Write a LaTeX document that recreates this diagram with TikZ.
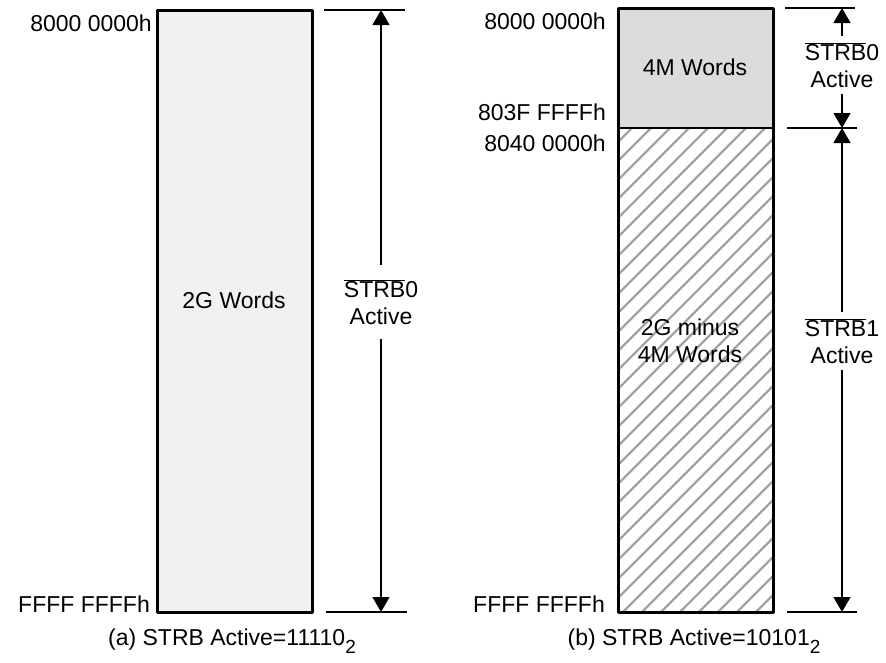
\documentclass[tikz,border=0pt]{standalone}
\usepackage{fontspec}
\setmainfont{Liberation Sans}
\usetikzlibrary{arrows.meta,positioning}
\definecolor{paleblock}{HTML}{F0F1F3}
\definecolor{greyblock}{HTML}{DCDCDC}
\tikzset{
  memblock/.style={draw=black, line width=3pt},
  addr/.style={anchor=base east, inner sep=0pt},
  actlbl/.style={align=center, inner xsep=0pt, inner ysep=6pt},
  dimline/.style={line width=1.2pt, -{Triangle[width=17pt,length=15pt]}},
  tickline/.style={line width=1.2pt},
  hatchline/.style={draw=black!36, line width=2.4pt},
  caption/.style={anchor=base, inner sep=0pt},
}
\newcommand{\strbact}[1]{$\overline{\mbox{STRB}}$#1\\Active}
\newcommand{\binsub}[1]{\raisebox{-8pt}{\fontsize{19}{19}\selectfont #1}}

\begin{document}
\begin{tikzpicture}[x=1pt, y=-1pt, font=\fontsize{23}{27}\selectfont, line join=round]
\useasboundingbox (0,0) rectangle (886,662);
% (a) one strobe over the whole space
\fill[paleblock] (157,10) rectangle (312,612);
\draw[memblock] (157,10) rectangle (312,612);
\node (wordsA) at (234,300) {2G Words};
\node[addr] (topA) at (152,31) {8000 0000h};
\node[addr] (endA) at (150,612) {FFFF FFFFh};
\path (324,10) coordinate (ta1) (405,10) coordinate (ta2)
      (326,612) coordinate (ba1) (407,612) coordinate (ba2)
      (381,10) coordinate (ta) (381,612) coordinate (ba);
\draw[tickline] (ta1) -- (ta2) (ba1) -- (ba2);
\node[actlbl, inner ysep=14pt] (actA) at (381,302) {\strbact{0}};
\draw[dimline] (actA.north) -- (ta);
\draw[dimline] (actA.south) -- (ba);
\node[caption] (capA) at (232,645) {(a) STRB Active=11110\binsub{2}};
% (b) two strobes
\fill[greyblock] (618,8) rectangle (773,128);
\begin{scope}
  \clip (618,128) rectangle (773,612);
  \foreach \k in {0,...,36}
    \draw[hatchline] (110+19*\k,612) -- ++(500,-500);
\end{scope}
\draw[line width=1.5pt] (618,128) -- (773,128);
\draw[memblock] (618,8) rectangle (773,612);
\node (wordsB0) at (695,67) {4M Words};
\node[align=center, inner sep=1pt] (wordsB1) at (690,341) {2G minus\\4M Words};
\node[addr] (topB) at (606,29) {8000 0000h};
\node[addr] (midB0) at (606,120) {803F FFFFh};
\node[addr] (midB1) at (606,151) {8040 0000h};
\node[addr] (endB) at (605,612) {FFFF FFFFh};
\path (785,8) coordinate (tb1) (855,8) coordinate (tb2)
      (787,128) coordinate (mb1) (857,128) coordinate (mb2)
      (787,612) coordinate (bb1) (857,612) coordinate (bb2)
      (842,8) coordinate (tb) (842,128) coordinate (mb) (842,612) coordinate (bb);
\draw[tickline] (tb1) -- (tb2) (mb1) -- (mb2) (bb1) -- (bb2);
\node[actlbl] (actB0) at (842,65) {\strbact{0}};
\node[actlbl] (actB1) at (842,341) {\strbact{1}};
\draw[dimline] (actB0.north) -- (tb);
\draw[dimline] (actB0.south) -- (mb);
\draw[dimline] (actB1.north) -- (mb);
\draw[dimline] (actB1.south) -- (bb);
\node[caption] (capB) at (694,645) {(b) STRB Active=10101\binsub{2}};
\end{tikzpicture}
\end{document}
